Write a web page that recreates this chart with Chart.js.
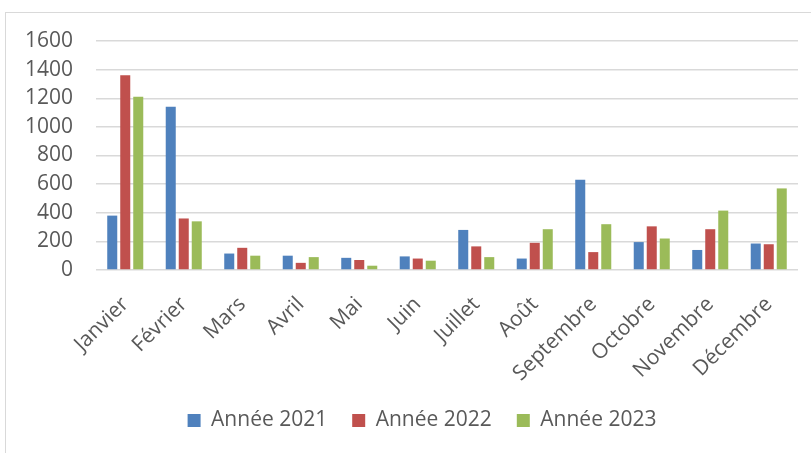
<!DOCTYPE html>
<html lang="fr">
<head>
<meta charset="utf-8">
<title>Année 2021-2023</title>
<script src="https://cdn.jsdelivr.net/npm/chart.js@4.4.1/dist/chart.umd.min.js"></script>
<style>
  html, body { margin: 0; padding: 0; background: #fff; overflow: hidden; }
  .wrap  { position: relative; width: 811px; height: 453px; }
  .frame { position: absolute; left: 5px; top: 12px; width: 900px; height: 600px;
           border-left: 1px solid #d9d9d9; border-top: 1px solid #d9d9d9; }
  .wrap canvas { position: absolute; left: 0; top: 0; }
</style>
</head>
<body>
<div class="wrap">
  <div class="frame"></div>
  <canvas id="chartMonths" width="811" height="453"></canvas>
</div>
<script>
// ── Data ──
const months   = ['Janvier','Février','Mars','Avril','Mai','Juin','Juillet','Août','Septembre','Octobre','Novembre','Décembre'];
const year2021 = [380, 1140, 115, 100, 85, 95, 280, 80, 630, 195, 140, 185];
const year2022 = [1360, 360, 155, 50, 70, 80, 165, 190, 125, 305, 285, 180];
const year2023 = [1210, 340, 100, 90, 30, 65, 90, 285, 320, 220, 415, 570];
const yTicks   = [0, 200, 400, 600, 800, 1000, 1200, 1400, 1600];

// ── Style ──
const txtColor  = '#595959';
const gridColor = '#d9d9d9';
const font      = { family: '"Open Sans", sans-serif', size: 21 };

const bar = (label, data, color) => ({
  label, data,
  backgroundColor: color,
  borderWidth: 0,
  categoryPercentage: 0.667,
  barPercentage: 0.77,
});

// legend sits a bit right of the canvas centre, like the Excel original
const legendShift = {
  id: 'legendShift',
  afterLayout(chart) {
    chart.legend.left  += 23;
    chart.legend.right += 23;
  }
};

new Chart(document.getElementById('chartMonths').getContext('2d'), {
  type: 'bar',
  data: {
    labels: months,
    datasets: [
      bar('Année 2021', year2021, '#4f81bd'),
      bar('Année 2022', year2022, '#c0504d'),
      bar('Année 2023', year2023, '#9bbb59'),
    ]
  },
  plugins: [legendShift],
  options: {
    responsive: false,
    animation: false,
    layout: { padding: { left: 0, right: 13, top: 41, bottom: 12 } },
    plugins: {
      tooltip: { enabled: false },
      legend: {
        position: 'bottom',
        labels: { color: txtColor, font, boxWidth: 13, boxHeight: 13, padding: 25 }
      }
    },
    scales: {
      x: {
        grid: { display: false, drawTicks: false },
        border: { display: false },
        ticks: { color: txtColor, font, autoSkip: false, minRotation: 45, maxRotation: 45, padding: 22 },
        afterFit(scale) { scale.height = 115; }
      },
      y: {
        min: yTicks[0],
        max: yTicks[yTicks.length - 1],
        grid: { color: gridColor, lineWidth: 1.5, drawTicks: false },
        border: { display: false },
        ticks: { color: txtColor, font, stepSize: yTicks[1] - yTicks[0], padding: 23, callback: v => String(v) },
        afterFit(scale) { scale.width = 96; }
      }
    }
  }
});
</script>
</body>
</html>
